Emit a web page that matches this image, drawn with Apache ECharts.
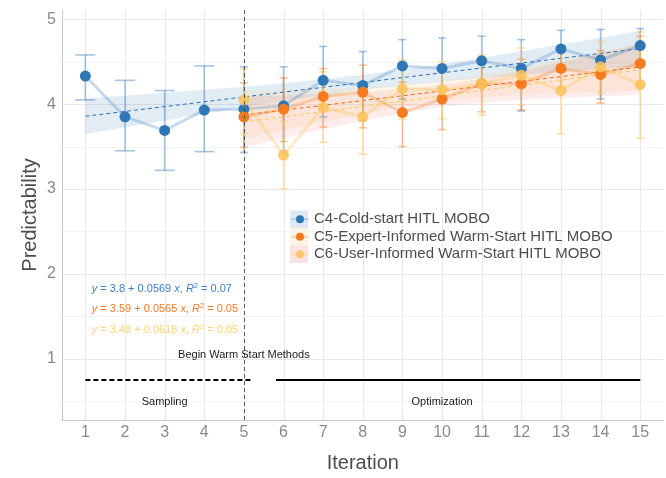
<!DOCTYPE html>
<html>
<head>
<meta charset="utf-8">
<script src="https://cdn.jsdelivr.net/npm/echarts@6/dist/echarts.min.js"></script>
<style>
  html, body { margin: 0; padding: 0; background: #ffffff; }
  #main { width: 666px; height: 478px; }
</style>
</head>
<body>
<div id="main"></div>
<script>
// ---- data -------------------------------------------------------------
const iterations = [1, 2, 3, 4, 5, 6, 7, 8, 9, 10, 11, 12, 13, 14, 15];
const warmIterations = [5, 6, 7, 8, 9, 10, 11, 12, 13, 14, 15];

// C4 cold start: mean and error-bar bounds per iteration
const c4Mean = [4.33, 3.85, 3.69, 3.93, 3.94, 3.98, 4.28, 4.22, 4.45, 4.42, 4.51, 4.42, 4.65, 4.52, 4.69];
const c4Low  = [4.05, 3.45, 3.22, 3.44, 3.43, 3.45, 3.85, 3.80, 4.06, 4.05, 4.22, 3.92, 4.38, 4.06, 4.45];
const c4High = [4.58, 4.28, 4.16, 4.45, 4.44, 4.44, 4.68, 4.62, 4.76, 4.78, 4.80, 4.76, 4.87, 4.88, 4.89];

// C5 expert-informed warm start
const c5Mean = [3.85, 3.94, 4.09, 4.14, 3.90, 4.06, 4.24, 4.24, 4.42, 4.35, 4.48];
const c5Low  = [3.49, 3.56, 3.73, 3.72, 3.50, 3.70, 3.91, 3.93, 4.20, 4.01, 4.20];
const c5High = [4.25, 4.31, 4.42, 4.46, 4.26, 4.45, 4.55, 4.53, 4.64, 4.63, 4.80];

// C6 user-informed warm start
const c6Mean = [4.05, 3.40, 3.96, 3.85, 4.18, 4.17, 4.24, 4.34, 4.16, 4.44, 4.23];
const c6Low  = [3.65, 3.00, 3.55, 3.41, 3.82, 3.83, 3.87, 3.99, 3.65, 4.13, 3.60];
const c6High = [4.41, 3.80, 4.38, 4.25, 4.52, 4.50, 4.58, 4.66, 4.62, 4.74, 4.85];

// linear fits (intercept, slope, R^2) and the x-range each covers
const fitIntercept = [3.8, 3.59, 3.48];
const fitSlope     = [0.0569, 0.0565, 0.0618];
const fitR2        = ['0.07', '0.05', '0.05'];
const fitFrom      = [1, 5, 5];
const fitTo        = [15, 15, 15];

// confidence bands of the fits
const c4BandLow  = [3.647, 3.728, 3.808, 3.887, 3.964, 4.036, 4.104, 4.165, 4.218, 4.264, 4.305, 4.342, 4.377, 4.411, 4.444];
const c4BandHigh = [4.067, 4.100, 4.134, 4.169, 4.206, 4.246, 4.292, 4.345, 4.406, 4.474, 4.547, 4.624, 4.703, 4.783, 4.864];
const c5BandLow  = [3.593, 3.694, 3.793, 3.885, 3.969, 4.035, 4.082, 4.111, 4.132, 4.146, 4.158];
const c5BandHigh = [4.153, 4.164, 4.179, 4.199, 4.229, 4.275, 4.342, 4.425, 4.518, 4.616, 4.718];
const c6BandLow  = [3.489, 3.601, 3.703, 3.804, 3.896, 3.968, 4.020, 4.052, 4.073, 4.095, 4.107];
const c6BandHigh = [4.089, 4.101, 4.123, 4.144, 4.176, 4.228, 4.300, 4.392, 4.493, 4.595, 4.707];

const seriesNames = ['C4-Cold-start HITL MOBO', 'C5-Expert-Informed Warm-Start HITL MOBO', 'C6-User-Informed Warm-Start HITL MOBO'];

// axes
const xTicks = iterations;
const yTicks = [1, 2, 3, 4, 5];
const yMinorTicks = [0.5, 1.5, 2.5, 3.5, 4.5];
const xRange = [0.41, 15.59];
const yRange = [0.278, 5.109];
const warmStartAt = 5;

// phase annotations
const phaseTexts = ['Begin Warm Start Methods', 'Sampling', 'Optimization'];
const phaseTextX = [5, 3, 10];
const phaseTextY = [1.05, 0.49, 0.49];
const samplingSpan = [1, 5.22];
const optimizationSpan = [5.81, 15];
const phaseLineY = 0.75;

// ---- styling ----------------------------------------------------------
const FONT = '"Liberation Sans", Arial, Helvetica, sans-serif';
const pointColors = ['#2f77b5', '#f57b1e', 'rgba(252,196,92,0.88)'];
const pathColors  = ['rgba(70,135,195,0.30)', 'rgba(245,123,30,0.28)', 'rgba(252,200,100,0.36)'];
const barColors   = ['rgba(60,125,188,0.45)', 'rgba(245,123,30,0.45)', 'rgba(252,200,100,0.52)'];
const fitColors   = ['#2a6fb2', '#f06a12', '#fcc85a'];
const bandFills   = ['rgba(60,125,190,0.15)', 'rgba(253,205,110,0.16)', 'rgba(232,105,105,0.13)'];
const eqColors    = ['#3a7fc0', '#f47a24', '#fdd37a'];
const keyFills    = ['#dfe9f4', '#fff5e3', '#fbe3e2'];
const eqAnchorX   = 1.16;
const eqAnchorY   = [1.82, 1.585, 1.34];
const legendTop   = 210.5;
const legendRow   = 17.5;

const zip = (xs, ys) => xs.map((x, i) => [x, ys[i]]);

// ---- chart ------------------------------------------------------------
const chart = echarts.init(document.getElementById('main'), null, { renderer: 'canvas' });

// background grid lines (major + minor) drawn through the axis scales
function gridSeries() {
  return {
    type: 'custom', silent: true, z: 0,
    data: [[xRange[0], yRange[0]]],
    renderItem: function (params, api) {
      const cs = params.coordSys;
      const kids = [];
      yMinorTicks.forEach(v => {
        const y = Math.round(api.coord([xRange[0], v])[1]) + 0.5;
        kids.push({ type: 'line', shape: { x1: cs.x, y1: y, x2: cs.x + cs.width, y2: y },
          style: { stroke: '#f3f3f3', lineWidth: 1 } });
      });
      yTicks.forEach(v => {
        const y = Math.round(api.coord([xRange[0], v])[1]) + 0.5;
        kids.push({ type: 'line', shape: { x1: cs.x, y1: y, x2: cs.x + cs.width, y2: y },
          style: { stroke: '#e9e9e9', lineWidth: 1.1 } });
      });
      xTicks.forEach(v => {
        const x = Math.round(api.coord([v, yRange[0]])[0]) + 0.5;
        kids.push({ type: 'line', shape: { x1: x, y1: cs.y, x2: x, y2: cs.y + cs.height },
          style: { stroke: '#e9e9e9', lineWidth: 1.1 } });
      });
      return { type: 'group', children: kids };
    }
  };
}

function bandSeries(xs, lo, hi, fill) {
  return {
    type: 'custom', silent: true, z: 1,
    data: [[xs[0], lo[0]]],
    renderItem: function (params, api) {
      const pts = [];
      xs.forEach((x, i) => pts.push(api.coord([x, hi[i]])));
      for (let i = xs.length - 1; i >= 0; i--) pts.push(api.coord([xs[i], lo[i]]));
      return { type: 'polygon', shape: { points: pts }, style: { fill: fill } };
    }
  };
}

function fitSeries(k) {
  const a = fitIntercept[k], b = fitSlope[k];
  return {
    type: 'line', name: 'fit' + k, z: 2, silent: true,
    symbol: 'none',
    data: [[fitFrom[k], a + b * fitFrom[k]], [fitTo[k], a + b * fitTo[k]]],
    lineStyle: { color: fitColors[k], width: 1, type: [4, 3] },
    emphasis: { disabled: true }
  };
}

function errorSeries(xs, lo, hi, color) {
  return {
    type: 'custom', silent: true, z: 3,
    data: xs.map((x, i) => [x, lo[i], hi[i]]),
    renderItem: function (params, api) {
      const x = api.value(0);
      const p1 = api.coord([x, api.value(1)]);
      const p2 = api.coord([x, api.value(2)]);
      const half = x < warmStartAt ? 10 : 4;
      const st = { stroke: color, lineWidth: 1.6 };
      return { type: 'group', children: [
        { type: 'line', shape: { x1: p1[0], y1: p1[1], x2: p2[0], y2: p2[1] }, style: st },
        { type: 'line', shape: { x1: p1[0] - half, y1: p1[1], x2: p1[0] + half, y2: p1[1] }, style: st },
        { type: 'line', shape: { x1: p2[0] - half, y1: p2[1], x2: p2[0] + half, y2: p2[1] }, style: st }
      ] };
    }
  };
}

function meanSeries(k, xs, ys) {
  return {
    type: 'line', name: seriesNames[k], z: 4,
    data: zip(xs, ys),
    symbol: 'circle', symbolSize: 11,
    itemStyle: { color: pointColors[k] },
    lineStyle: { color: pathColors[k], width: 3 },
    emphasis: { disabled: true }
  };
}

function textSeries() {
  const items = [];
  phaseTexts.forEach((t, i) => items.push({ value: [phaseTextX[i], phaseTextY[i]], kind: 'phase', text: t }));
  fitIntercept.forEach((a, k) => {
    items.push({ value: [eqAnchorX, eqAnchorY[k]], kind: 'eq', k: k,
      text: '{i|y}{n| = ' + a + ' + ' + fitSlope[k] + ' }{i|x}{n|, }{i|R}{s|2}{n| = ' + fitR2[k] + '}' });
  });
  return {
    type: 'custom', silent: true, z: 6,
    data: items,
    renderItem: function (params, api) {
      const it = items[params.dataIndex];
      const p = api.coord(it.value);
      if (it.kind === 'phase') {
        return { type: 'text', x: p[0], y: p[1], style: {
          text: it.text, fill: '#1a1a1a', font: '11px ' + FONT, align: 'center', verticalAlign: 'middle' } };
      }
      const c = eqColors[it.k];
      return { type: 'text', x: p[0], y: p[1], style: {
        text: it.text, fill: c, align: 'left', verticalAlign: 'middle',
        rich: {
          i: { fontStyle: 'italic', fontSize: 11, fontFamily: FONT, fill: c, lineHeight: 14 },
          n: { fontSize: 11, fontFamily: FONT, fill: c, lineHeight: 14 },
          s: { fontSize: 7.5, fontFamily: FONT, fill: c, verticalAlign: 'top', lineHeight: 9 }
        } } };
    }
  };
}

function phaseLine(span, dashed) {
  return {
    type: 'line', name: dashed ? 'phaseA' : 'phaseB', z: 5, silent: true,
    symbol: 'none',
    data: [[span[0], phaseLineY], [span[1], phaseLineY]],
    lineStyle: { color: '#000000', width: 2, type: dashed ? [5, 3] : 'solid' },
    emphasis: { disabled: true }
  };
}

const warmMarker = {
  type: 'line', name: 'warmStart', z: 5, silent: true, symbol: 'none', data: [],
  markLine: {
    silent: true, symbol: 'none', animation: false,
    label: { show: false },
    lineStyle: { color: '#4a4a4a', width: 0.9, type: [4, 3] },
    data: [{ xAxis: warmStartAt }]
  }
};

const option = {
  backgroundColor: '#ffffff',
  animation: false,
  textStyle: { fontFamily: FONT },
  grid: { left: 62, right: 2.4, top: 10, bottom: 57.3, containLabel: false },
  xAxis: {
    type: 'value', min: xRange[0], max: xRange[1],
    name: 'Iteration', nameLocation: 'middle', nameGap: 33, nameMoveOverlap: false,
    nameTextStyle: { fontSize: 20, color: '#4d4d4d', fontFamily: FONT },
    axisLine: { show: true, lineStyle: { color: '#c9c9c9', width: 1 } },
    axisTick: { show: false },
    splitLine: { show: false },
    axisLabel: { customValues: xTicks, fontSize: 16, color: '#8a8a8a', margin: 5, fontFamily: FONT }
  },
  yAxis: {
    type: 'value', min: yRange[0], max: yRange[1],
    name: 'Predictability', nameLocation: 'middle', nameGap: 22, nameRotate: 90, nameMoveOverlap: false,
    nameTextStyle: { fontSize: 20, color: '#4d4d4d', fontFamily: FONT },
    axisLine: { show: true, lineStyle: { color: '#c9c9c9', width: 1 } },
    axisTick: { show: false },
    splitLine: { show: false },
    axisLabel: { customValues: yTicks, fontSize: 16, color: '#8a8a8a', margin: 6, fontFamily: FONT }
  },
  legend: {
    data: seriesNames,
    orient: 'vertical', left: 290, top: legendTop, padding: 0,
    itemWidth: 18, itemHeight: 10, itemGap: 0,
    textStyle: { fontSize: 15, color: '#4d4d4d', fontFamily: FONT, lineHeight: legendRow },
    selectedMode: false
  },
  graphic: seriesNames.map((n, k) => ({
    type: 'rect', z: -1, silent: true,
    shape: { x: 290, y: legendTop + k * legendRow, width: 18, height: legendRow },
    style: { fill: keyFills[k] }
  })),
  series: [
    gridSeries(),
    bandSeries(iterations, c4BandLow, c4BandHigh, bandFills[0]),
    bandSeries(warmIterations, c5BandLow, c5BandHigh, bandFills[1]),
    bandSeries(warmIterations, c6BandLow, c6BandHigh, bandFills[2]),
    fitSeries(0), fitSeries(1), fitSeries(2),
    errorSeries(iterations, c4Low, c4High, barColors[0]),
    errorSeries(warmIterations, c5Low, c5High, barColors[1]),
    errorSeries(warmIterations, c6Low, c6High, barColors[2]),
    meanSeries(0, iterations, c4Mean),
    meanSeries(1, warmIterations, c5Mean),
    meanSeries(2, warmIterations, c6Mean),
    warmMarker,
    phaseLine(samplingSpan, true),
    phaseLine(optimizationSpan, false),
    textSeries()
  ]
};

chart.setOption(option);
</script>
</body>
</html>
